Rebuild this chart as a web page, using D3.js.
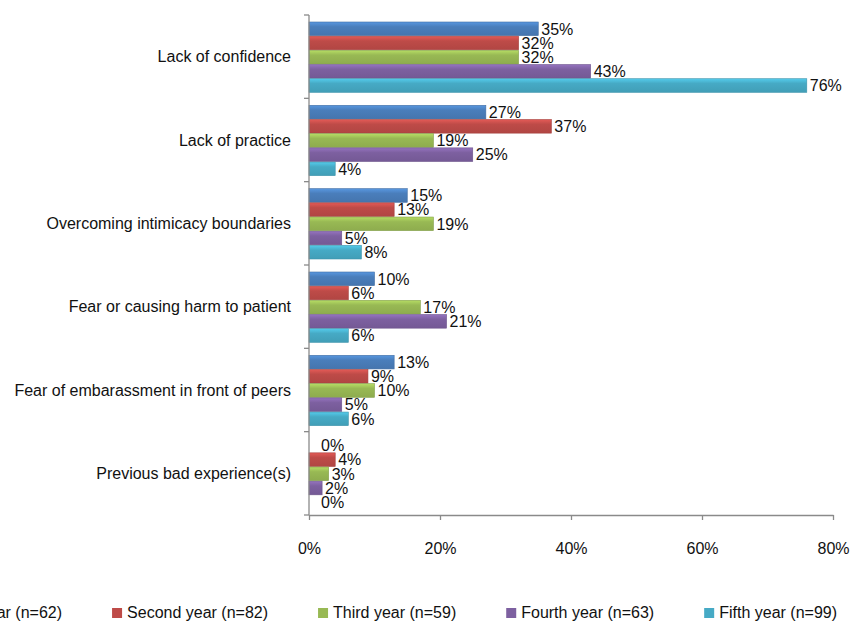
<!DOCTYPE html>
<html lang="en">
<head>
    <meta charset="utf-8">
    <script src="https://cdn.jsdelivr.net/npm/d3@7/dist/d3.min.js"></script>
    <style>
        body { margin: 0; background: #fff; }
        svg { display: block; font-family: "Liberation Sans", Arial, sans-serif; }
        .axis path, .axis line { stroke: #8a8a8a; stroke-width: 1.3; }
    </style>
</head>
<body>
    <div id="chart"></div>
    <script>
        // categories (top to bottom)
        const categories = [
            "Lack of confidence",
            "Lack of practice",
            "Overcoming intimicacy boundaries",
            "Fear or causing harm to patient",
            "Fear of embarassment in front of peers",
            "Previous bad experience(s)"
        ];
        const seriesNames = [
            "First year (n=62)",
            "Second year (n=82)",
            "Third year (n=59)",
            "Fourth year (n=63)",
            "Fifth year (n=99)"
        ];
        // percent values, one array per series, in category order
        const firstYear  = [35, 27, 15, 10, 13, 0];
        const secondYear = [32, 37, 13, 6, 9, 4];
        const thirdYear  = [32, 19, 19, 17, 10, 3];
        const fourthYear = [43, 25, 5, 21, 5, 2];
        const fifthYear  = [76, 4, 8, 6, 6, 0];
        const xTicks = [0, 20, 40, 60, 80];
        const colors = ["#4a7ebb", "#be4b48", "#98b954", "#7d60a0", "#46aac5"];

        const allSeries = [firstYear, secondYear, thirdYear, fourthYear, fifthYear];

        const width = 853, height = 633;
        const fs = 16;
        const svg = d3.select("#chart").append("svg")
            .attr("width", width)
            .attr("height", height);

        // gradient per series, gives the glossy bar look
        const defs = svg.append("defs");
        colors.forEach((c, i) => {
            const g = defs.append("linearGradient")
                .attr("id", "grad" + i)
                .attr("x1", 0).attr("y1", 0).attr("x2", 0).attr("y2", 1);
            g.append("stop").attr("offset", "0%").attr("stop-color", d3.color(c).brighter(0.5));
            g.append("stop").attr("offset", "35%").attr("stop-color", c);
            g.append("stop").attr("offset", "100%").attr("stop-color", d3.color(c).darker(0.2));
        });

        const x = d3.scaleLinear().domain([0, 80]).range([309, 833]);
        const y0 = d3.scaleBand().domain(categories).range([15, 515]).paddingInner(0).paddingOuter(0);
        const y1 = d3.scaleBand().domain(d3.range(seriesNames.length))
            .range([7, y0.bandwidth() - 6]).paddingInner(0.04);

        const groups = svg.append("g")
            .selectAll("g")
            .data(categories)
            .join("g")
            .attr("transform", d => `translate(0,${y0(d)})`);

        groups.selectAll("rect")
            .data((c, ci) => allSeries.map((s, si) => ({ si, v: s[ci] })))
            .join("rect")
            .attr("x", x(0))
            .attr("y", d => y1(d.si))
            .attr("width", d => x(d.v) - x(0))
            .attr("height", y1.bandwidth())
            .attr("fill", d => `url(#grad${d.si})`)
            .attr("stroke", d => d.v > 0 ? d3.color(colors[d.si]).darker(0.4) : "none")
            .attr("stroke-width", 0.6);

        groups.selectAll("text")
            .data((c, ci) => allSeries.map((s, si) => ({ si, v: s[ci] })))
            .join("text")
            .attr("x", d => x(d.v) + (d.v === 0 ? 12 : 3))
            .attr("y", d => y1(d.si) + y1.bandwidth() / 2)
            .attr("dy", "0.36em")
            .attr("font-size", fs)
            .attr("fill", "#111")
            .text(d => d.v + "%");

        // category labels
        svg.append("g")
            .selectAll("text")
            .data(categories)
            .join("text")
            .attr("x", 291)
            .attr("y", d => y0(d) + y0.bandwidth() / 2)
            .attr("dy", "0.36em")
            .attr("text-anchor", "end")
            .attr("font-size", fs)
            .attr("fill", "#111")
            .text(d => d);

        // y axis: ticks at category boundaries
        const yAxis = svg.append("g").attr("class", "axis");
        yAxis.append("line")
            .attr("x1", x(0)).attr("x2", x(0))
            .attr("y1", 15).attr("y2", 515);
        yAxis.selectAll(".tk")
            .data(categories.map(c => y0(c)).concat([515]))
            .join("line")
            .attr("class", "tk")
            .attr("x1", x(0) - 5).attr("x2", x(0))
            .attr("y1", d => d).attr("y2", d => d);

        // x axis
        const xAxis = svg.append("g")
            .attr("class", "axis")
            .attr("transform", "translate(0,515)")
            .call(d3.axisBottom(x).tickValues(xTicks).tickSize(5).tickSizeOuter(0).tickPadding(23)
                .tickFormat(d => d + "%"));
        xAxis.selectAll("text")
            .attr("font-size", fs)
            .attr("fill", "#111")
            .attr("font-family", "Liberation Sans, Arial, sans-serif");

        // legend, laid out in a row and right-aligned at 837
        const legend = svg.append("g");
        const items = legend.selectAll("g")
            .data(seriesNames)
            .join("g");
        items.append("rect")
            .attr("width", 10).attr("height", 10)
            .attr("y", -10)
            .attr("fill", (d, i) => colors[i]);
        items.append("text")
            .attr("x", 15)
            .attr("font-size", fs)
            .attr("fill", "#111")
            .text(d => d);
        let cx = 0;
        items.each(function () {
            d3.select(this).attr("transform", `translate(${cx},0)`);
            const w = this.querySelector("text").getComputedTextLength();
            cx += 15 + w + 50;
        });
        const total = cx - 50;
        legend.attr("transform", `translate(${837 - total},618)`);
    </script>
</body>
</html>
